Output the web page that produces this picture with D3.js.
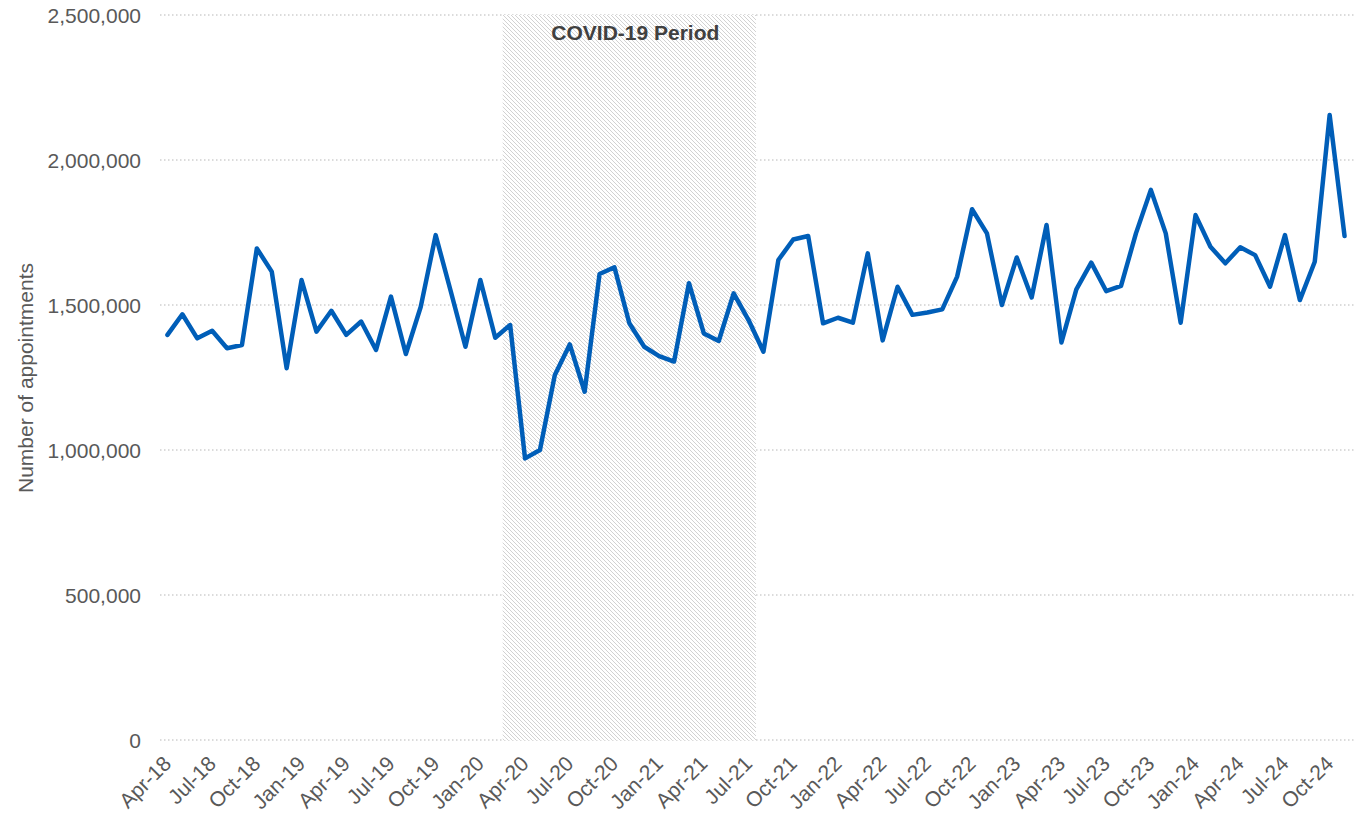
<!DOCTYPE html>
<meta charset="utf-8">
<style>
  body { margin: 0; background: #fff; }
  svg { display: block; font-family: "Liberation Sans", Arial, sans-serif; }
  .tick text { fill: #595959; font-size: 21px; }
  .grid line { stroke: #d0d0d0; stroke-width: 1.3; stroke-dasharray: 1.5,2.5; }
  .axis-title { fill: #595959; font-size: 21px; }
  .covid-label { fill: #404040; font-size: 21px; font-weight: bold; }
</style>
<body>
<svg width="1356" height="815"></svg>
<script src="https://d3js.org/d3.v7.min.js"></script>
<script>

var months = [
  "Apr-18","May-18","Jun-18","Jul-18","Aug-18","Sep-18","Oct-18","Nov-18","Dec-18",
  "Jan-19","Feb-19","Mar-19","Apr-19","May-19","Jun-19","Jul-19","Aug-19","Sep-19","Oct-19","Nov-19","Dec-19",
  "Jan-20","Feb-20","Mar-20","Apr-20","May-20","Jun-20","Jul-20","Aug-20","Sep-20","Oct-20","Nov-20","Dec-20",
  "Jan-21","Feb-21","Mar-21","Apr-21","May-21","Jun-21","Jul-21","Aug-21","Sep-21","Oct-21","Nov-21","Dec-21",
  "Jan-22","Feb-22","Mar-22","Apr-22","May-22","Jun-22","Jul-22","Aug-22","Sep-22","Oct-22","Nov-22","Dec-22",
  "Jan-23","Feb-23","Mar-23","Apr-23","May-23","Jun-23","Jul-23","Aug-23","Sep-23","Oct-23","Nov-23","Dec-23",
  "Jan-24","Feb-24","Mar-24","Apr-24","May-24","Jun-24","Jul-24","Aug-24","Sep-24","Oct-24","Nov-24"
];

var appointments = [
  1397000, 1468000, 1385000, 1411000, 1351000, 1362000, 1695000, 1615000, 1282000,
  1586000, 1408000, 1480000, 1397000, 1443000, 1345000, 1529000, 1331000, 1494000, 1741000, 1550000, 1356000,
  1586000, 1387000, 1431000, 971000, 1000000, 1259000, 1364000, 1201000, 1607000, 1630000, 1437000, 1356000,
  1324000, 1305000, 1575000, 1402000, 1376000, 1540000, 1448000, 1339000, 1655000, 1726000, 1738000, 1437000,
  1456000, 1439000, 1678000, 1378000, 1563000, 1466000, 1474000, 1485000, 1598000, 1830000, 1747000, 1500000,
  1664000, 1526000, 1776000, 1371000, 1554000, 1646000, 1548000, 1566000, 1747000, 1897000, 1747000, 1439000,
  1810000, 1701000, 1644000, 1699000, 1672000, 1563000, 1741000, 1517000, 1649000, 2155000, 1738000
];

var yTicks = [0, 500000, 1000000, 1500000, 2000000, 2500000];
var xTickLabels = months.filter(function(d, i) { return i % 3 === 0; });
var covidStart = "Mar-20",
    covidEnd = "Jul-21";

var svg = d3.select("svg");
var plotLeft = 160, plotRight = 1352, plotTop = 15, plotBottom = 740;

var x = d3.scaleBand().domain(months).range([plotLeft, plotRight]).padding(0);
var y = d3.scaleLinear().domain([0, 2500000]).range([plotBottom, plotTop]);
var xc = function(m) { return x(m) + x.bandwidth() / 2; };

// hatch pattern for the covid band
var defs = svg.append("defs");
var pat = defs.append("pattern")
    .attr("id", "hatch")
    .attr("patternUnits", "userSpaceOnUse")
    .attr("width", 4)
    .attr("height", 4);
pat.append("rect")
    .attr("width", 4)
    .attr("height", 4)
    .attr("fill", "#fff");
pat.append("path")
    .attr("d", "M-1,-1 L5,5 M3,-1 L5,1 M-1,3 L1,5")
    .attr("stroke", "#d2d2d2")
    .attr("stroke-width", 1);

// gridlines
svg.append("g")
    .attr("class", "grid")
  .selectAll("line")
  .data(yTicks)
  .enter().append("line")
    .attr("x1", plotLeft)
    .attr("x2", 1356)
    .attr("y1", function(d) { return y(d); })
    .attr("y2", function(d) { return y(d); });

// covid period
svg.append("rect")
    .attr("x", x(covidStart))
    .attr("y", y(2500000))
    .attr("width", x(covidEnd) + x.bandwidth() - x(covidStart))
    .attr("height", y(0) - y(2500000))
    .attr("fill", "url(#hatch)");

svg.append("text")
    .attr("class", "covid-label")
    .attr("x", (x(covidStart) + x(covidEnd) + x.bandwidth()) / 2 + 6)
    .attr("y", 40)
    .attr("text-anchor", "middle")
    .text("COVID-19 Period");

// y axis
var yAxis = svg.append("g")
    .attr("transform", "translate(" + (plotLeft - 19) + ",0)")
    .call(d3.axisLeft(y).tickValues(yTicks).tickSize(0).tickPadding(0).tickFormat(d3.format(",")));
yAxis.select(".domain").remove();
yAxis.selectAll("text").attr("dy", "0.35em");

svg.append("text")
    .attr("class", "axis-title")
    .attr("transform", "translate(33,378) rotate(-90)")
    .attr("text-anchor", "middle")
    .text("Number of appointments");

// x axis
var xAxis = svg.append("g")
    .attr("transform", "translate(0," + plotBottom + ")")
    .call(d3.axisBottom(x).tickValues(xTickLabels).tickSize(0).tickPadding(0));
xAxis.select(".domain").remove();
xAxis.selectAll("text")
    .attr("text-anchor", "end")
    .attr("dy", 0)
    .attr("y", 0)
    .attr("transform", "translate(5,25) rotate(-45)");

// line
var line = d3.line()
    .x(function(d, i) { return xc(months[i]); })
    .y(function(d) { return y(d); });

svg.append("path")
    .datum(appointments)
    .attr("fill", "none")
    .attr("stroke", "#005EB8")
    .attr("stroke-width", 4.5)
    .attr("stroke-linejoin", "round")
    .attr("stroke-linecap", "round")
    .attr("d", line);

</script>
</body>
